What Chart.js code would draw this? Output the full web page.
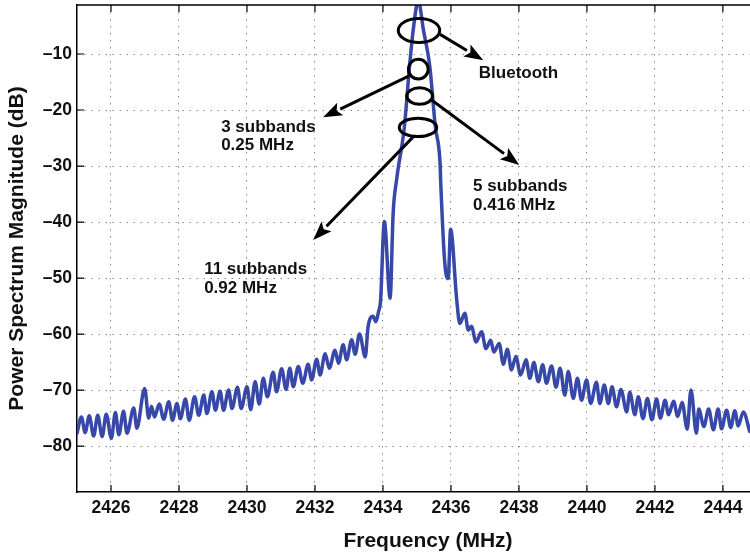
<!DOCTYPE html>
<html>
<head>
<meta charset="utf-8">
<script src="https://cdn.jsdelivr.net/npm/chart.js@4.4.1/dist/chart.umd.min.js"></script>
<style>
html, body { margin: 0; padding: 0; background: #fff; overflow: hidden; width: 750px; height: 555px; }
</style>
</head>
<body>
<canvas id="myChart" width="790" height="555"></canvas>
<script>
// frequency (MHz) and power spectrum magnitude (dB)
const freq = [
  2425.00, 2425.13, 2425.24, 2425.36, 2425.49, 2425.61, 2425.74, 2425.86, 2426.01, 2426.13,
  2426.23, 2426.37, 2426.47, 2426.67, 2426.76, 2426.99, 2427.11, 2427.19, 2427.28, 2427.42,
  2427.55, 2427.70, 2427.81, 2427.94, 2428.04, 2428.19, 2428.30, 2428.46, 2428.58, 2428.73,
  2428.82, 2428.97, 2429.07, 2429.21, 2429.31, 2429.46, 2429.56, 2429.72, 2429.83, 2430.00,
  2430.11, 2430.24, 2430.36, 2430.48, 2430.60, 2430.77, 2430.87, 2431.02, 2431.15, 2431.26,
  2431.36, 2431.51, 2431.64, 2431.80, 2431.90, 2432.05, 2432.15, 2432.30, 2432.42, 2432.59,
  2432.69, 2432.83, 2432.93, 2433.08, 2433.18, 2433.31, 2433.48, 2433.56, 2433.71, 2433.79,
  2433.87, 2433.93, 2434.04, 2434.21, 2434.30, 2434.40, 2434.63, 2434.78, 2434.89, 2435.04,
  2435.19, 2435.38, 2435.54, 2435.68, 2435.70, 2435.82, 2435.92, 2435.99, 2436.17, 2436.26,
  2436.41, 2436.51, 2436.60, 2436.74, 2436.90, 2437.03, 2437.17, 2437.26, 2437.42, 2437.54,
  2437.66, 2437.78, 2437.91, 2438.05, 2438.21, 2438.32, 2438.44, 2438.57, 2438.70, 2438.81,
  2438.96, 2439.09, 2439.21, 2439.35, 2439.45, 2439.60, 2439.72, 2439.84, 2439.99, 2440.11,
  2440.28, 2440.38, 2440.51, 2440.63, 2440.74, 2440.87, 2441.00, 2441.17, 2441.26, 2441.41,
  2441.51, 2441.65, 2441.78, 2441.91, 2442.05, 2442.16, 2442.30, 2442.40, 2442.55, 2442.67,
  2442.80, 2442.95, 2443.06, 2443.22, 2443.29, 2443.44, 2443.58, 2443.72, 2443.86, 2443.96,
  2444.11, 2444.23, 2444.35, 2444.45, 2444.60, 2444.79
];
const magnitude = [
  -77.7, -74.8, -77.6, -74.6, -78.2, -74.5, -78.3, -74.3, -78.6, -74.0,
  -78.0, -73.8, -77.7, -73.2, -76.8, -69.7, -75.0, -72.9, -74.8, -72.5,
  -75.2, -72.1, -75.4, -72.4, -75.1, -71.6, -75.4, -71.2, -74.5, -70.9,
  -74.2, -70.3, -73.6, -70.2, -73.6, -70.0, -73.3, -69.5, -73.3, -69.4,
  -73.5, -68.5, -72.5, -67.9, -71.2, -66.8, -70.3, -66.2, -69.9, -66.1,
  -69.4, -65.8, -68.8, -65.4, -68.2, -64.5, -67.3, -63.5, -66.1, -62.9,
  -65.2, -61.9, -64.6, -61.0, -63.6, -60.0, -64.1, -58.8, -56.8, -57.8,
  -56.0, -54.0, -39.9, -53.6, -38.4, -32.5, -23.0, -12.3, -5.7, -0.5,
  -5.7, -12.3, -23.0, -29.5, -33.0, -47.4, -50.1, -41.3, -53.9, -58.1,
  -56.3, -59.3, -58.6, -61.4, -59.6, -62.6, -61.1, -63.2, -61.7, -65.4,
  -62.7, -66.4, -64.0, -67.3, -64.6, -67.9, -65.1, -68.5, -65.5, -68.8,
  -65.7, -69.5, -66.1, -70.9, -66.7, -71.5, -67.9, -71.8, -68.2, -72.4,
  -68.6, -72.4, -69.1, -72.4, -69.4, -73.0, -69.9, -73.9, -70.4, -74.4,
  -71.2, -75.1, -71.5, -75.3, -71.6, -75.0, -71.8, -74.4, -72.0, -74.7,
  -72.2, -77.0, -70.0, -77.7, -73.4, -76.5, -73.4, -77.1, -73.4, -76.9,
  -73.6, -76.7, -73.7, -76.4, -73.9, -77.4
];
const xTicks = [2426, 2428, 2430, 2432, 2434, 2436, 2438, 2440, 2442, 2444];
const yTicks = [-80, -70, -60, -50, -40, -30, -20, -10];

// call-outs, in data units (MHz, dB)
const rings = [
  { x: 2435.06, y: -5.8, rx: 0.61, ry: 2.15 },
  { x: 2435.04, y: -12.7, rx: 0.29, ry: 1.75 },
  { x: 2435.08, y: -17.5, rx: 0.38, ry: 1.48 },
  { x: 2435.03, y: -23.1, rx: 0.55, ry: 1.64 }
];
const arrows = [
  { from: [2435.68, -6.5], to: [2436.95, -11.1] },
  { from: [2434.77, -13.9], to: [2432.24, -21.3] },
  { from: [2435.43, -18.2], to: [2438.01, -29.8] },
  { from: [2434.89, -24.8], to: [2431.95, -43.2] }
];
const notes = [
  { x: 2436.82, y: -13.4, text: 'Bluetooth' },
  { x: 2429.24, y: -23.0, text: '3 subbands' },
  { x: 2429.24, y: -26.3, text: '0.25 MHz' },
  { x: 2436.65, y: -33.6, text: '5 subbands' },
  { x: 2436.65, y: -37.0, text: '0.416 MHz' },
  { x: 2428.74, y: -48.4, text: '11 subbands' },
  { x: 2428.74, y: -51.8, text: '0.92 MHz' }
];

const FONT = '"Liberation Sans", Arial, Helvetica, sans-serif';

const sketch = {
  id: 'sketch',
  afterDatasetsDraw(chart) {
    const ctx = chart.ctx;
    const a = chart.chartArea;
    const x = chart.scales.x, y = chart.scales.y;
    ctx.save();

    // top and right frame
    ctx.strokeStyle = '#000';
    ctx.lineWidth = 1.5;
    ctx.beginPath();
    ctx.moveTo(a.left, a.top);
    ctx.lineTo(a.right, a.top);
    ctx.lineTo(a.right, a.bottom);
    ctx.stroke();

    // inward tick marks
    ctx.lineWidth = 1.2;
    ctx.beginPath();
    xTicks.forEach(v => {
      const px = x.getPixelForValue(v);
      ctx.moveTo(px, a.bottom); ctx.lineTo(px, a.bottom - 7);
      ctx.moveTo(px, a.top); ctx.lineTo(px, a.top + 7);
    });
    yTicks.forEach(v => {
      const py = y.getPixelForValue(v);
      ctx.moveTo(a.left, py); ctx.lineTo(a.left + 7, py);
      ctx.moveTo(a.right, py); ctx.lineTo(a.right - 7, py);
    });
    ctx.stroke();

    // ellipses
    ctx.lineWidth = 3;
    rings.forEach(r => {
      const cx = x.getPixelForValue(r.x), cy = y.getPixelForValue(r.y);
      const rx = Math.abs(x.getPixelForValue(r.x + r.rx) - cx);
      const ry = Math.abs(y.getPixelForValue(r.y + r.ry) - cy);
      ctx.beginPath();
      ctx.ellipse(cx, cy, rx, ry, 0, 0, Math.PI * 2);
      ctx.stroke();
    });

    // arrows
    ctx.fillStyle = '#000';
    arrows.forEach(ar => {
      const x1 = x.getPixelForValue(ar.from[0]), y1 = y.getPixelForValue(ar.from[1]);
      const x2 = x.getPixelForValue(ar.to[0]), y2 = y.getPixelForValue(ar.to[1]);
      const ang = Math.atan2(y2 - y1, x2 - x1);
      const len = 19, half = 7;
      const bx = x2 - len * Math.cos(ang), by = y2 - len * Math.sin(ang);
      ctx.beginPath();
      ctx.moveTo(x1, y1);
      ctx.lineTo(bx, by);
      ctx.stroke();
      ctx.beginPath();
      ctx.moveTo(x2, y2);
      ctx.lineTo(bx - half * Math.sin(ang), by + half * Math.cos(ang));
      ctx.lineTo(bx + 4 * Math.cos(ang), by + 4 * Math.sin(ang));
      ctx.lineTo(bx + half * Math.sin(ang), by - half * Math.cos(ang));
      ctx.closePath();
      ctx.fill();
    });

    // text
    ctx.font = 'bold 17px ' + FONT;
    ctx.fillStyle = '#111';
    ctx.textAlign = 'left';
    ctx.textBaseline = 'middle';
    notes.forEach(n => {
      ctx.fillText(n.text, x.getPixelForValue(n.x), y.getPixelForValue(n.y));
    });
    ctx.restore();
  }
};

function noPad(s) {
  s.paddingTop = 0;
  s.paddingBottom = 0;
  s.paddingLeft = 0;
  s.paddingRight = 0;
}

const ctx = document.getElementById('myChart').getContext('2d');
const chart = new Chart(ctx, {
  type: 'line',
  data: {
    datasets: [{
      data: freq.map((f, i) => ({ x: f, y: magnitude[i] })),
      borderColor: 'rgb(55, 72, 168)',
      borderWidth: 3.5,
      borderJoinStyle: 'round',
      borderCapStyle: 'round',
      pointRadius: 0,
      cubicInterpolationMode: 'monotone',
      fill: false
    }]
  },
  options: {
    responsive: false,
    animation: false,
    layout: { padding: { top: 5, right: 11, left: 0, bottom: 0 } },
    plugins: { legend: { display: false }, tooltip: { enabled: false } },
    scales: {
      x: {
        type: 'linear',
        min: 2425,
        max: 2445.65,
        afterBuildTicks: s => { s.ticks = xTicks.map(v => ({ value: v })); },
        afterFit: s => { s.height = 63; noPad(s); },
        ticks: {
          color: '#111',
          padding: 6,
          maxRotation: 0,
          autoSkip: false,
          font: { family: FONT, size: 17.5, weight: 'bold' },
          callback: v => String(v)
        },
        grid: { color: '#888', lineWidth: 1, drawTicks: false },
        border: { color: '#000', width: 1.5, dash: [1.5, 5.5] },
        title: {
          display: true,
          text: 'Frequency (MHz)',
          color: '#111',
          padding: { top: 0, bottom: 1.4 },
          font: { family: FONT, size: 21, weight: 'bold' }
        }
      },
      y: {
        type: 'linear',
        min: -88.2,
        max: -1.25,
        afterBuildTicks: s => { s.ticks = yTicks.map(v => ({ value: v })); },
        afterFit: s => { s.width = 77; noPad(s); },
        ticks: {
          color: '#111',
          padding: 5,
          font: { family: FONT, size: 17.5, weight: 'bold' },
          callback: v => String(v).replace('-', '\u2013')
        },
        grid: { color: '#888', lineWidth: 1, drawTicks: false },
        border: { color: '#000', width: 1.5, dash: [1.5, 5.5] },
        title: {
          display: true,
          text: 'Power Spectrum Magnitude (dB)',
          color: '#111',
          padding: { top: 4.4, bottom: 0 },
          font: { family: FONT, size: 21, weight: 'bold' }
        }
      }
    }
  },
  plugins: [sketch]
});
</script>
</body>
</html>
